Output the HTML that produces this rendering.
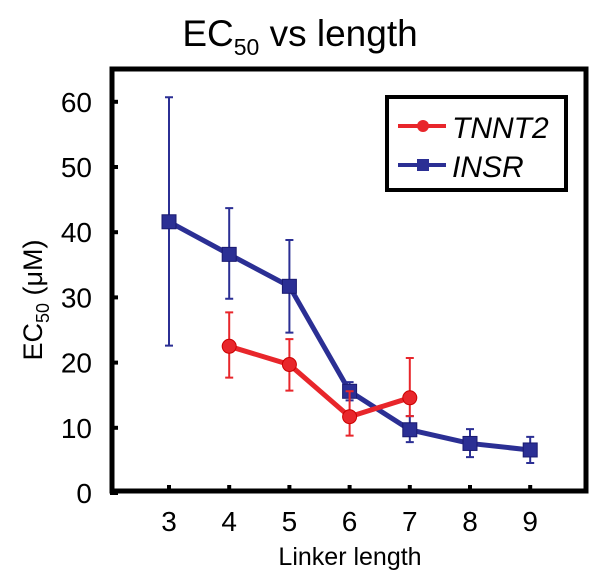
<!DOCTYPE html>
<html><head><meta charset="utf-8"><style>
body{margin:0;background:#fff;}
svg{display:block;font-family:"Liberation Sans",Arial,sans-serif;}
</style></head><body>
<svg id="c" width="601" height="584"></svg>
<script>
const categories=[3,4,5,6,7,8,9];
const yTicks=[0,10,20,30,40,50,60];
const insrX=[3,4,5,6,7,8,9];
const insrY=[41.6,36.6,31.7,15.6,9.7,7.6,6.6];
const insrHi=[60.7,43.7,38.8,17.0,11.8,9.8,8.6];
const insrLo=[22.6,29.8,24.6,14.2,7.8,5.5,4.6];
const tnntX=[4,5,6,7];
const tnntY=[22.5,19.7,11.7,14.6];
const tnntHi=[27.7,23.6,15.6,20.7];
const tnntLo=[17.7,15.7,8.8,11.8];
const NS="http://www.w3.org/2000/svg";
const svg=document.getElementById('c');
const X=v=>169+60.2*(v-3);
const Y=v=>493-6.52*v;
function mk(t,a,p){const e=document.createElementNS(NS,t);for(const k in a)e.setAttribute(k,a[k]);(p||svg).appendChild(e);return e;}
let t=mk('text',{x:300,y:46,'font-size':37,'text-anchor':'middle'});


t.innerHTML='EC<tspan font-size="23" dy="9">50</tspan><tspan dy="-9"> vs length</tspan>';
yTicks.forEach(v=>{
 const l=mk('line',{x1:110,x2:118,y1:Y(v),y2:Y(v),stroke:'#000','stroke-width':4});
 
 
 const tx=mk('text',{x:92,y:Y(v)+10,'font-size':28,'text-anchor':'end'});
 
 
 tx.textContent=v;
});
categories.forEach(v=>{
 const l=mk('line',{x1:X(v),x2:X(v),y1:485,y2:493,stroke:'#000','stroke-width':4});
 
 
 const tx=mk('text',{x:X(v),y:531,'font-size':28,'text-anchor':'middle'});
 
 
 tx.textContent=v;
});
let yl=mk('text',{transform:'translate(42,300) rotate(-90)','font-size':27,'text-anchor':'middle'});


yl.innerHTML='EC<tspan font-size="18" dy="7">50</tspan><tspan dy="-7"> (μM)</tspan>';
let xl=mk('text',{x:350,y:565,'font-size':25,'text-anchor':'middle'});


xl.textContent='Linker length';
function series(xs,ys,hi,lo,col,sq,name){
 const g=mk('g',{});
 
 
 xs.forEach((x,i)=>{
  const e=mk('path',{d:`M${X(x)},${Y(hi[i])}V${Y(lo[i])}M${X(x)-4},${Y(hi[i])}h8M${X(x)-4},${Y(lo[i])}h8`,stroke:col,'stroke-width':2,fill:'none'},g);
  
  
 });
 const ln=mk('polyline',{points:xs.map((x,i)=>X(x)+','+Y(ys[i])).join(' '),stroke:col,'stroke-width':5,fill:'none','stroke-linejoin':'round'},g);
 
 
 xs.forEach((x,i)=>{
  let m;
  if(sq)m=mk('rect',{x:X(x)-7,y:Y(ys[i])-7,width:14,height:14,fill:col,stroke:'#1a1a70','stroke-width':1},g);
  else m=mk('circle',{cx:X(x),cy:Y(ys[i]),r:7,fill:col,stroke:'#c00','stroke-width':1},g);
  
  
 });
}
series(insrX,insrY,insrHi,insrLo,'#2b2f94',true,'insr');
series(tnntX,tnntY,tnntHi,tnntLo,'#e8262b',false,'tnnt2');
let fr=mk('rect',{x:112,y:69,width:474,height:422,fill:'none',stroke:'#000','stroke-width':5});


const lg=mk('g',{});


mk('rect',{x:387,y:97,width:179,height:93,fill:'#fff',stroke:'#000','stroke-width':4},lg);
mk('line',{x1:398,x2:446,y1:126,y2:126,stroke:'#e8262b','stroke-width':4},lg);
mk('circle',{cx:423,cy:126,r:6,fill:'#e8262b'},lg);
mk('line',{x1:398,x2:446,y1:165,y2:165,stroke:'#2b2f94','stroke-width':4},lg);
mk('rect',{x:417,y:159,width:12,height:12,fill:'#2b2f94'},lg);
let l1=mk('text',{x:452,y:138,'font-size':30,'font-style':'italic'},lg);


l1.textContent='TNNT2';
let l2=mk('text',{x:452,y:177,'font-size':30,'font-style':'italic'},lg);


l2.textContent='INSR';
</script>
</body></html>
